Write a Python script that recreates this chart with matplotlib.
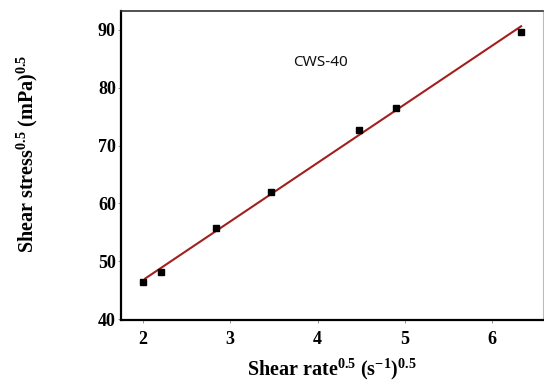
import numpy as np
import matplotlib
matplotlib.use("Agg")
import matplotlib.pyplot as plt

# ------------------------------------------------------------
# Data (sqrt shear rate vs sqrt shear stress)
# ------------------------------------------------------------
shear_rate_sqrt = [2.00, 2.21, 2.84, 3.47, 4.47, 4.90, 6.33]
shear_stress_sqrt = [46.4, 48.1, 55.7, 62.0, 72.7, 76.5, 89.6]
x_ticks = [2, 3, 4, 5, 6]
y_ticks = [40, 50, 60, 70, 80, 90]
sample_label = "CWS-40"

plt.rcParams["font.family"] = "Liberation Serif"
plt.rcParams["font.weight"] = "bold"
plt.rcParams["mathtext.fontset"] = "custom"
plt.rcParams["mathtext.rm"] = "Liberation Serif:bold"
plt.rcParams["mathtext.it"] = "Liberation Serif:italic:bold"
plt.rcParams["mathtext.bf"] = "Liberation Serif:bold"

fig = plt.figure(figsize=(5.44, 3.85), dpi=100)
ax = fig.add_axes([0.2219, 0.1688, 0.7757, 0.8026])

# linear fit through the points
coef = np.polyfit(shear_rate_sqrt, shear_stress_sqrt, 1)
xf = np.array([shear_rate_sqrt[0] + 0.03, shear_rate_sqrt[-1]])
ax.plot(xf, np.polyval(coef, xf), color="#a31f1f", lw=1.5, zorder=2)
ax.plot(shear_rate_sqrt, shear_stress_sqrt, "s", color="black",
        markersize=5, zorder=3)

ax.set_xlim(1.748, 6.577)
ax.set_ylim(39.9, 93.2)
ax.set_xticks(x_ticks)
ax.set_yticks(y_ticks)
ax.tick_params(length=2, width=0.6, color="#888888", labelsize=13, pad=1.5)
for lab in ax.get_xticklabels() + ax.get_yticklabels():
    lab.set_fontweight("bold")
ax.tick_params(axis="x", pad=6)

# spines
ax.spines["left"].set_linewidth(1.6)
ax.spines["bottom"].set_linewidth(1.6)
ax.spines["left"].set_color("black")
ax.spines["bottom"].set_color("black")
ax.spines["top"].set_linewidth(1.2)
ax.spines["top"].set_color("#333333")
ax.spines["right"].set_linewidth(0.8)
ax.spines["right"].set_color("#bbbbbb")

ax.text(4.03, 84.4, sample_label, family="Noto Sans", fontweight="normal",
        fontsize=11, ha="center", va="center", color="#111111")

fig.text(0.61, 0.04, r"Shear rate$^{\mathrm{0.5}}$ (s$^{\mathrm{-1}}$)$^{\mathrm{0.5}}$",
         ha="center", va="center", fontsize=14.5, fontweight="bold")
fig.text(0.05, 0.60, r"Shear stress$^{\mathrm{0.5}}$ (mPa)$^{\mathrm{0.5}}$",
         ha="center", va="center", rotation=90, fontsize=14.5, fontweight="bold")

fig.savefig("out.png", dpi=100)
